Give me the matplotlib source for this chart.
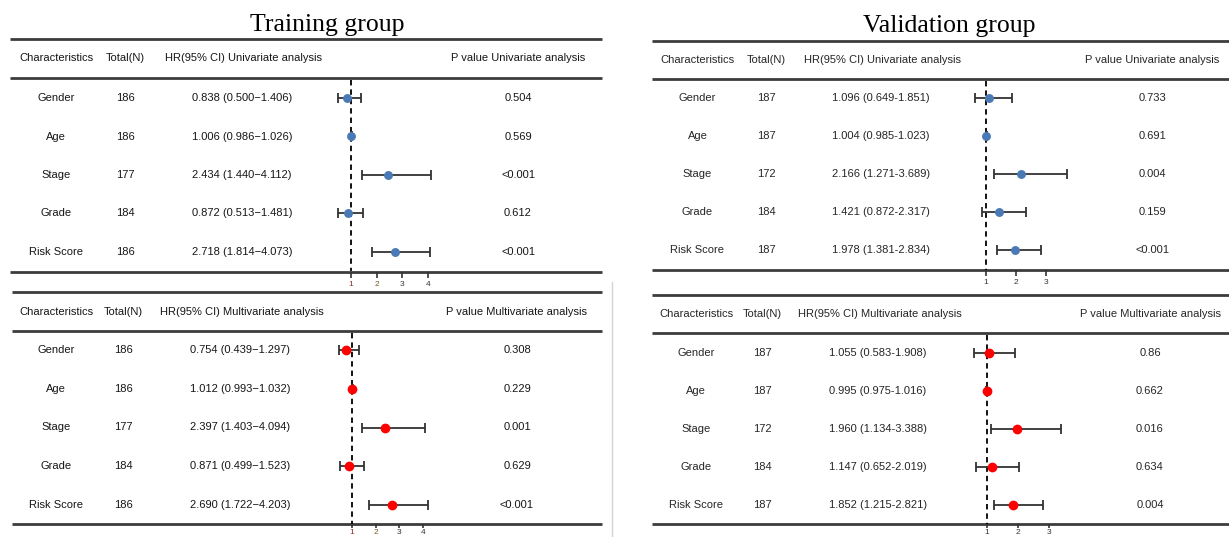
import matplotlib
matplotlib.use("Agg")
import matplotlib.pyplot as plt

plt.rcParams["font.family"] = ["Liberation Sans", "DejaVu Sans"]

# ---- data ----
characteristics = ["Gender", "Age", "Stage", "Grade", "Risk Score"]

train_n = [186, 186, 177, 184, 186]
train_uni_hr = [0.838, 1.006, 2.434, 0.872, 2.718]
train_uni_lo = [0.500, 0.986, 1.440, 0.513, 1.814]
train_uni_hi = [1.406, 1.026, 4.112, 1.481, 4.073]
train_uni_p = ["0.504", "0.569", "<0.001", "0.612", "<0.001"]

train_multi_hr = [0.754, 1.012, 2.397, 0.871, 2.690]
train_multi_lo = [0.439, 0.993, 1.403, 0.499, 1.722]
train_multi_hi = [1.297, 1.032, 4.094, 1.523, 4.203]
train_multi_p = ["0.308", "0.229", "0.001", "0.629", "<0.001"]

valid_n = [187, 187, 172, 184, 187]
valid_uni_hr = [1.096, 1.004, 2.166, 1.421, 1.978]
valid_uni_lo = [0.649, 0.985, 1.271, 0.872, 1.381]
valid_uni_hi = [1.851, 1.023, 3.689, 2.317, 2.834]
valid_uni_p = ["0.733", "0.691", "0.004", "0.159", "<0.001"]

valid_multi_hr = [1.055, 0.995, 1.960, 1.147, 1.852]
valid_multi_lo = [0.583, 0.975, 1.134, 0.652, 1.215]
valid_multi_hi = [1.908, 1.016, 3.388, 2.019, 2.821]
valid_multi_p = ["0.86", "0.662", "0.016", "0.634", "0.004"]

train_ticks = [1, 2, 3, 4]
valid_ticks = [1, 2, 3]

W, H = 1229, 537
fig = plt.figure(figsize=(W / 100, H / 100), dpi=100)
bg = fig.add_axes([0, 0, 1, 1])
bg.set_xlim(0, W)
bg.set_ylim(H, 0)
bg.axis("off")

RULE = "#3c3c3c"


def draw_block(n, hr, lo, hi, p, kind, sep, lay, colour, ms, ticks, txt_col):
    xl, xr = lay["span"]
    for y in lay["rules"]:
        bg.plot([xl, xr], [y, y], color=RULE, lw=2, solid_capstyle="butt")
    hy = lay["header"]
    bg.text(lay["name"], hy, "Characteristics", ha="center", va="center", fontsize=8, color=txt_col)
    bg.text(lay["n"], hy, "Total(N)", ha="center", va="center", fontsize=8, color=txt_col)
    bg.text(lay["hr_head"], hy, "HR(95% CI) " + kind + " analysis", ha="left", va="center",
            fontsize=8, color=txt_col)
    bg.text(lay["p"], hy, "P value " + kind + " analysis", ha="center", va="center",
            fontsize=8, color=txt_col)

    rows = [lay["row0"] + i * lay["step"] for i in range(len(hr))]
    for i, y in enumerate(rows):
        bg.text(lay["name"], y, characteristics[i], ha="center", va="center", fontsize=8, color=txt_col)
        bg.text(lay["n"], y, str(n[i]), ha="center", va="center", fontsize=8, color=txt_col)
        bg.text(lay["hr_val"], y, f"{hr[i]:.3f} ({lo[i]:.3f}{sep}{hi[i]:.3f})",
                ha="center", va="center", fontsize=8, color=txt_col)
        bg.text(lay["p"], y, p[i], ha="center", va="center", fontsize=8, color=txt_col)

    # forest part on its own axes, x in HR units
    ytop, ybot = lay["rules"][1], lay["rules"][2]
    one, ppu = lay["one"], lay["ppu"]
    x0, x1 = one - 45, one + 115
    ax = fig.add_axes([x0 / W, 1 - ybot / H, (x1 - x0) / W, (ybot - ytop) / H])
    ax.set_xlim(1 + (x0 - one) / ppu, 1 + (x1 - one) / ppu)
    ax.set_ylim(ybot, ytop)
    ax.patch.set_alpha(0)
    for s in ax.spines.values():
        s.set_visible(False)
    ax.set_yticks([])
    ax.plot([1, 1], [ytop + 2, ybot], color="black", lw=1.3, linestyle=(0, (3, 2.2)))
    xerr = [[h - l for h, l in zip(hr, lo)], [u - h for h, u in zip(hr, hi)]]
    ax.errorbar(hr, rows, xerr=xerr, fmt="o", color=colour, ms=ms, ecolor="#333333",
                elinewidth=1.3, capsize=3.3, capthick=1.3, zorder=3)
    ax.set_xticks(ticks)
    ax.set_xticklabels([str(t) for t in ticks])
    ax.tick_params(axis="x", direction="out", length=lay["tlen"], width=1.2, color="#333333",
                   labelsize=6, pad=lay["tpad"], labelcolor="#333333")
    return ax


left_uni = dict(span=(10, 602), rules=[39, 78, 271.5], header=58, row0=98, step=38.5,
                name=56, n=125.5, hr_head=165, hr_val=242, p=518, one=351, ppu=25.7,
                tlen=4.5, tpad=2.2)
left_multi = dict(span=(12, 602), rules=[292, 331, 523.5], header=312, row0=350, step=38.75,
                  name=56, n=123.5, hr_head=160, hr_val=240.5, p=517, one=352, ppu=23.7,
                  tlen=3, tpad=0.8)
right_uni = dict(span=(652, W), rules=[41, 78.5, 269.5], header=60, row0=98, step=38,
                 name=697.5, n=766.5, hr_head=804.5, hr_val=881, p=1152.5, one=986, ppu=30,
                 tlen=4.5, tpad=2.2)
right_multi = dict(span=(652, W), rules=[295, 333, 524], header=314, row0=353, step=38,
                   name=696, n=762, hr_head=798, hr_val=878, p=1150, one=987, ppu=31,
                   tlen=3, tpad=0.6)

blue = "#4a7ab5"
ax1 = draw_block(train_n, train_uni_hr, train_uni_lo, train_uni_hi, train_uni_p, "Univariate", "\u2212",
                 left_uni, blue, 5.4, train_ticks, "#161616")
ax2 = draw_block(train_n, train_multi_hr, train_multi_lo, train_multi_hi, train_multi_p, "Multivariate", "\u2212",
                 left_multi, "red", 6, train_ticks, "#161616")
draw_block(valid_n, valid_uni_hr, valid_uni_lo, valid_uni_hi, valid_uni_p, "Univariate", "-",
           right_uni, blue, 5.4, valid_ticks, "#262626")
draw_block(valid_n, valid_multi_hr, valid_multi_lo, valid_multi_hi, valid_multi_p, "Multivariate", "-",
           right_multi, "red", 6, valid_ticks, "#262626")

# slight tint on the training tick labels, as in the picture
for ax in (ax1, ax2):
    labs = ax.get_xticklabels()
    labs[0].set_color("#8a2a2a")
    labs[1].set_color("#7a5a30")

# titles
bg.text(327, 31, "Training group", ha="center", va="baseline", fontsize=18.5,
        family=["Liberation Serif", "DejaVu Serif"])
bg.text(949, 32, "Validation group", ha="center", va="baseline", fontsize=18.5,
        family=["Liberation Serif", "DejaVu Serif"])

# faint separator between the two panels
bg.plot([612, 612], [282, H], color="#d4d4d4", lw=1)

fig.savefig("out.png", dpi=100)
